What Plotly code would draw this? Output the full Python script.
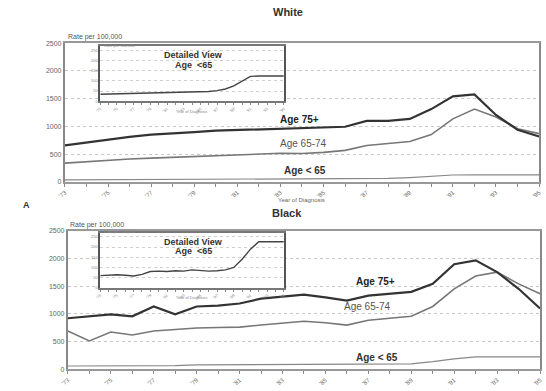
import plotly.graph_objects as go

years = list(range(1973, 1996))
year_labels = ["'" + str(y)[2:] if y % 2 == 1 else "" for y in years]

white_75 = [656, 710, 762, 810, 851, 869, 895, 922, 935, 949, 957, 965, 975, 993, 1099, 1099, 1135, 1312, 1543, 1578, 1206, 940, 816]
white_65_74 = [337, 365, 390, 410, 426, 440, 460, 479, 495, 505, 514, 510, 530, 567, 656, 690, 727, 851, 1135, 1312, 1170, 957, 869]
white_lt65 = [34, 35, 36, 37, 38, 39, 40, 41, 42, 43, 44, 45, 46, 48, 52, 60, 75, 100, 122, 124, 124, 124, 124]

black_75 = [922, 960, 993, 957, 1135, 993, 1135, 1152, 1188, 1277, 1312, 1348, 1300, 1241, 1330, 1360, 1400, 1543, 1897, 1968, 1755, 1454, 1099]
black_65_74 = [691, 514, 674, 620, 691, 720, 745, 755, 762, 800, 833, 869, 840, 798, 886, 920, 957, 1135, 1454, 1684, 1755, 1543, 1365]
black_lt65 = [60, 62, 64, 62, 58, 66, 80, 82, 80, 84, 82, 88, 84, 82, 84, 88, 100, 140, 190, 226, 226, 226, 226]

y_main_ticks = [0, 500, 1000, 1500, 2000, 2500]
y_inset_ticks = [0, 50, 100, 150, 200, 250]

W, H = 546, 391
def px(x):
    return x / W
def py(y):
    return 1 - y / H

FONT = "Liberation Sans"
fig = go.Figure()

def add_main(xa, ya, v75, v6574, v65):
    fig.add_trace(go.Scatter(x=years, y=v65, mode="lines", line=dict(color="#888", width=1.2), xaxis=xa, yaxis=ya, showlegend=False))
    fig.add_trace(go.Scatter(x=years, y=v6574, mode="lines", line=dict(color="#777", width=1.6), xaxis=xa, yaxis=ya, showlegend=False))
    fig.add_trace(go.Scatter(x=years, y=v75, mode="lines", line=dict(color="#333", width=2.2), xaxis=xa, yaxis=ya, showlegend=False))

def add_inset(xa, ya, v):
    fig.add_trace(go.Scatter(x=years, y=v, mode="lines", line=dict(color="#444", width=1.4), xaxis=xa, yaxis=ya, showlegend=False))

add_main("x", "y", white_75, white_65_74, white_lt65)
add_inset("x2", "y2", white_lt65)
add_main("x3", "y3", black_75, black_65_74, black_lt65)
add_inset("x4", "y4", black_lt65)

def main_x(dom, anchor):
    return dict(domain=dom, anchor=anchor, range=[1973, 1995], tickmode="array", tickvals=years, ticktext=year_labels,
                tickangle=-40, tickfont=dict(size=6, color="#666", family=FONT), ticks="outside", ticklen=3,
                tickcolor="#888", showline=True, linecolor="#999", linewidth=2, mirror=True, showgrid=False, zeroline=False)

def main_y(dom, anchor):
    return dict(domain=dom, anchor=anchor, range=[0, 2500], tickmode="array", tickvals=y_main_ticks,
                tickfont=dict(size=7, color="#666", family=FONT), ticks="", showline=True, linecolor="#888",
                linewidth=2, mirror=True, showgrid=True, gridcolor="#c8c8c8", griddash="dot", gridwidth=1, zeroline=False)

def inset_x(dom, anchor):
    return dict(domain=dom, anchor=anchor, range=[1973, 1995], tickmode="array", tickvals=years, ticktext=year_labels,
                tickangle=-40, tickfont=dict(size=4, color="#888", family=FONT), ticks="outside", ticklen=2,
                tickcolor="#888", showline=True, linecolor="#777", linewidth=1.5, mirror=True, showgrid=False, zeroline=False)

def inset_y(dom, anchor):
    return dict(domain=dom, anchor=anchor, range=[0, 270], tickmode="array", tickvals=y_inset_ticks,
                tickfont=dict(size=4, color="#888", family=FONT), ticks="", showline=True, linecolor="#555",
                linewidth=1.5, mirror=True, showgrid=True, gridcolor="#d0d0d0", griddash="dot", gridwidth=1, zeroline=False)

fig.update_layout(
    width=W, height=H, margin=dict(l=0, r=0, t=0, b=0),
    paper_bgcolor="white", plot_bgcolor="white",
    font=dict(family=FONT, color="#444"),
    xaxis=main_x([px(59), px(542)], "y"),
    yaxis=main_y([py(181), py(40)], "x"),
    xaxis2=inset_x([px(95), px(282)], "y2"),
    yaxis2=inset_y([py(99), py(43)], "x2"),
    xaxis3=main_x([px(62), px(543)], "y3"),
    yaxis3=main_y([py(372), py(231)], "x3"),
    xaxis4=inset_x([px(95), px(282)], "y4"),
    yaxis4=inset_y([py(289), py(233)], "x4"),
)

def txt(x, y, s, size, bold=False, color="#333", xanchor="center"):
    fig.add_annotation(x=px(x), y=py(y), xref="paper", yref="paper", text=("<b>%s</b>" % s) if bold else s,
                       showarrow=False, font=dict(size=size, color=color, family=FONT), xanchor=xanchor, yanchor="middle")

txt(286, 8, "White", 11, True, "#333")
txt(285, 213, "Black", 11, True, "#333")
txt(20, 205, "A", 9, True, "#333")
txt(60, 34, "Rate per 100,000", 7, False, "#555", "left")
txt(62, 225, "Rate per 100,000", 7, False, "#555", "left")
txt(300, 200, "Year of Diagnosis", 6, False, "#666")
# inset texts
for top in (43, 233):
    txt(97, top - 1, "Rate per 100,000", 4, False, "#888", "left")
    txt(190, top + 9, "Detailed View", 9, True, "#333")
    txt(190, top + 19, "Age  <65", 9, True, "#333")
    txt(188, top + 66, "Year of Diagnosis", 4, False, "#888")
# series labels
txt(298, 118, "Age 75+", 10, True, "#222")
txt(302, 142, "Age 65-74", 10, False, "#555")
txt(304, 170, "Age < 65", 10, True, "#333")
txt(375, 283, "Age 75+", 10, True, "#222")
txt(367, 308, "Age 65-74", 10, False, "#555")
txt(377, 360, "Age < 65", 10, True, "#333")

fig.write_html("out.html")
